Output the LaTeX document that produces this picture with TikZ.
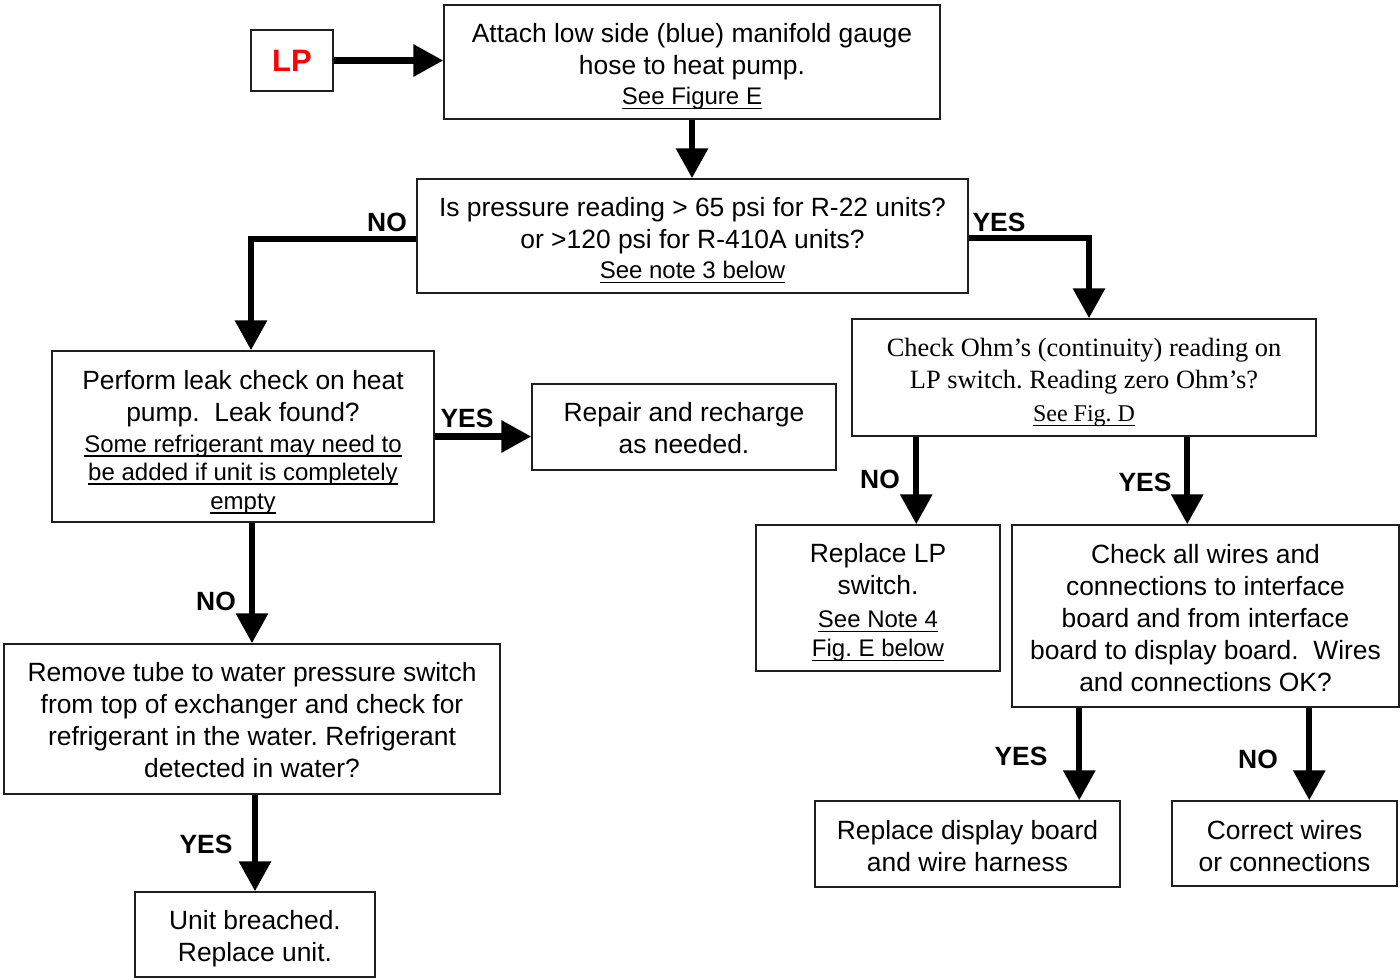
\documentclass[tikz,border=0pt]{standalone}
\usepackage{fontspec}
\setmainfont{Liberation Sans}
\newfontfamily\tnr{Liberation Serif}
\usetikzlibrary{arrows.meta}
\frenchspacing
% underline with a fixed offset below the baseline
\newcommand{\uln}[1]{\setbox0=\hbox{#1}\rlap{\rule[-2.4pt]{\wd0}{0.7pt}}\box0}
\newcommand{\notefont}{\fontsize{12}{14.5}\selectfont}
% taller first line: pushes the text block down by half of #1 pt
\newcommand{\tp}[1]{\rule{0pt}{\dimexpr10pt+#1pt\relax}}
\begin{document}
\begin{tikzpicture}[x=0.5pt,y=-0.5pt,
  box/.style={draw=black!88, line width=0.75pt, rectangle, inner sep=0pt, align=center,
    font=\fontsize{13.2}{16}\selectfont},
  flow/.style={line width=3.2pt, -{Triangle[length=15pt,width=15.5pt]}},
  lbl/.style={font=\fontsize{13.2}{16}\selectfont\bfseries, inner sep=0pt}]
\useasboundingbox (0,0) rectangle (1400,979);

% start marker
\node[box, minimum width=41pt, minimum height=30.5pt, font=\fontsize{15.5}{18}\selectfont\bfseries, text=red]
  (LP) at (292,60.5) {LP};

% process and decision boxes
\node[box, minimum width=248pt, minimum height=57pt] (A) at (692,62)
  {\tp{4}Attach low side (blue) manifold gauge\\ hose to heat pump.\\[-1pt] {\notefont\uln{See Figure E}}};
\node[box, minimum width=275.5pt, minimum height=57pt] (B) at (692.5,236)
  {\tp{4}Is pressure reading > 65 psi for R-22 units?\\ or >120 psi for R-410A units?\\[-1pt] {\notefont\uln{See note 3 below}}};
\node[box, minimum width=191pt, minimum height=85.5pt] (C) at (243,436.5)
  {\tp{5}Perform leak check on heat\\ pump.\ \ Leak found?\\[-0.5pt] {\notefont\uln{Some refrigerant may need to}}\\[-2pt]
   {\notefont\uln{be added if unit is completely}}\\[-1.5pt] {\notefont\uln{empty}}};
\node[box, minimum width=152pt, minimum height=43pt] (R) at (684,427)
  {\tp{1}Repair and recharge\\ as needed.};
\node[box, minimum width=232pt, minimum height=58.5pt, font=\fontsize{13.2}{16}\selectfont\tnr] (D) at (1084,377.5)
  {\tp{4}Check Ohm’s (continuity) reading on\\ LP switch. Reading zero Ohm’s?\\[0.5pt] {\notefont\uln{See Fig. D}}};
\node[box, minimum width=122pt, minimum height=73pt] (E) at (878,598)
  {\tp{4}Replace LP\\ switch.\\[0.5pt] {\notefont\uln{See Note 4}}\\[-1.5pt] {\notefont\uln{Fig. E below}}};
\node[box, minimum width=193.5pt, minimum height=91pt] (F) at (1205.5,616)
  {\tp{2}Check all wires and\\ connections to interface\\ board and from interface\\ board to display board.\ \ Wires\\ and connections OK?};
\node[box, minimum width=248pt, minimum height=75pt] (G) at (252,719)
  {\tp{1}Remove tube to water pressure switch\\ from top of exchanger and check for\\ refrigerant in the water. Refrigerant\\ detected in water?};
\node[box, minimum width=120pt, minimum height=42.5pt] (H) at (255,934.5)
  {\tp{4}Unit breached.\\ Replace unit.};
\node[box, minimum width=152.5pt, minimum height=43pt] (I) at (967.5,844)
  {\tp{2}Replace display board\\ and wire harness};
\node[box, minimum width=112.5pt, minimum height=42.5pt] (J) at (1284.5,843.5)
  {\tp{2}Correct wires\\ or connections};

% connectors
\draw[flow] (LP.east) -- (LP.east -| A.west);
\draw[flow] (A.south) -- (A.south |- B.north);
\draw[flow] ([yshift=-1.5pt]B.west) -| ([xshift=4pt]C.north);
\draw[flow] ([yshift=-1pt]B.east) -| ([xshift=2.5pt]D.north);
\draw[flow] (C.east) -- (C.east -| R.west);
\draw[flow] (C.south -| G.north) -- (G.north);
\draw[flow] (G.south -| H.north) -- (H.north);
\draw[flow] ([xshift=32.5pt]D.south west) -- ([xshift=32.5pt]D.south west |- E.north);
\draw[flow] ([xshift=168pt]D.south west) -- ([xshift=168pt]D.south west |- F.north);
\draw[flow] ([xshift=34pt]F.south west) -- ([xshift=34pt]F.south west |- I.north);
\draw[flow] ([xshift=149pt]F.south west) -- ([xshift=149pt]F.south west |- J.north);

% branch labels
\node[lbl] (nB) at (387,222) {NO};
\node[lbl] (yB) at (999,222) {YES};
\node[lbl] (yC) at (467,418) {YES};
\node[lbl] (nD) at (880,479) {NO};
\node[lbl] (yD) at (1145,482) {YES};
\node[lbl] (nC) at (216,601) {NO};
\node[lbl] (yG) at (206,844) {YES};
\node[lbl] (yF) at (1021,756) {YES};
\node[lbl] (nF) at (1258,759) {NO};
\end{tikzpicture}
\end{document}
